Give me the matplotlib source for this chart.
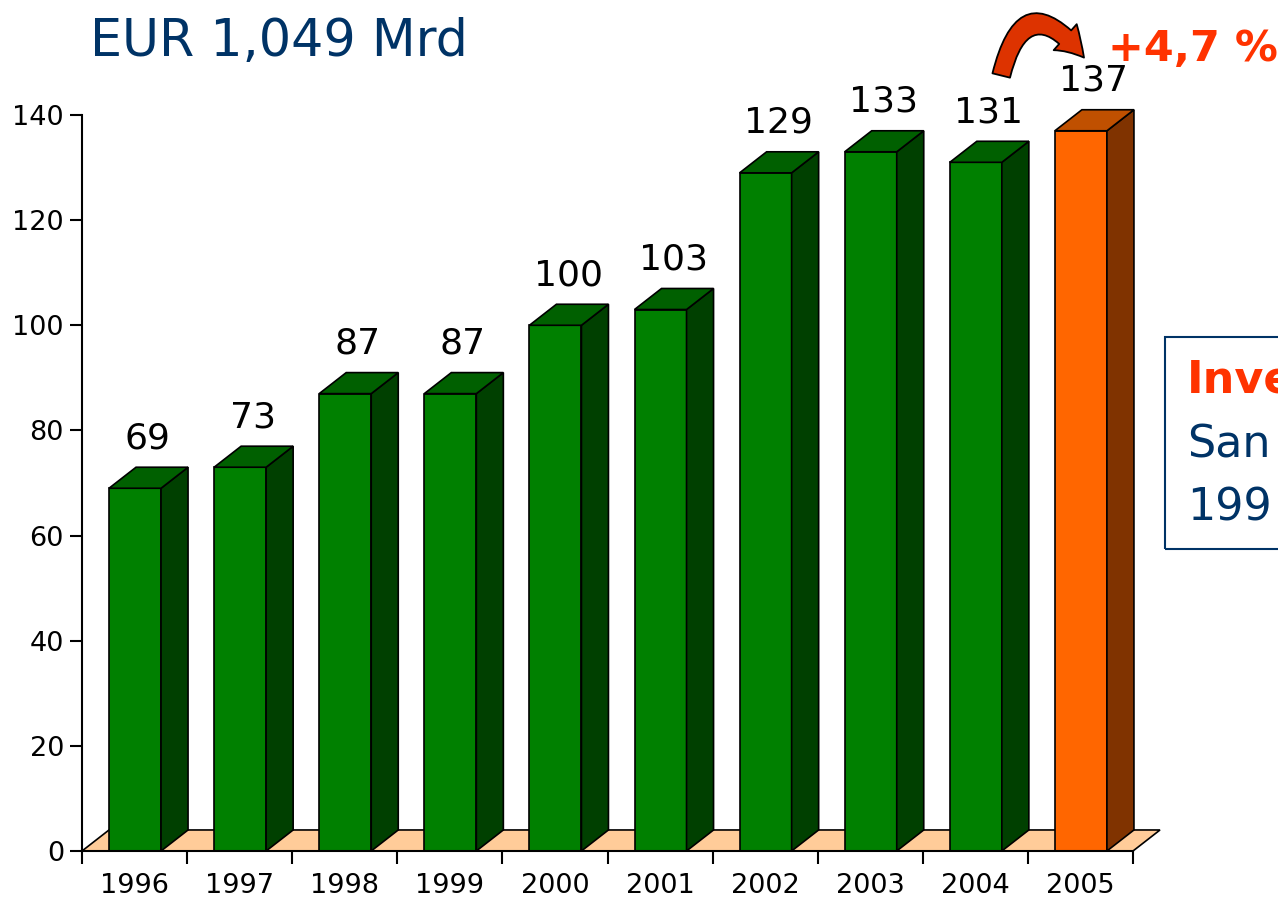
import matplotlib
matplotlib.use('Agg')
import matplotlib.pyplot as plt
from matplotlib.patches import Polygon, Rectangle

plt.rcParams['font.family'] = ['DejaVu Sans']

years = ['1996', '1997', '1998', '1999', '2000', '2001', '2002', '2003', '2004', '2005']
values = [69, 73, 87, 87, 100, 103, 129, 133, 131, 137]
yticks = [0, 20, 40, 60, 80, 100, 120, 140]

# colours: front, side, top
green = ('#008000', '#004000', '#006000')
orange = ('#FF6600', '#803300', '#C05000')
floor_col = '#FFCC99'
blue = '#003366'
red = '#FF3300'

fig = plt.figure(figsize=(12.78, 9.01), dpi=100)
ax = fig.add_axes([82/1278, 50/901, (1133-82)/1278, (851-115)/901])
ax.set_xlim(0, len(years))
ax.set_ylim(0, 140)

off = 0.257   # bar offset inside category
w = 0.495     # bar front width
dx = 0.257    # depth in x (data units)
dy = 4.0      # depth in y (data units)

# floor
n = len(years)
ax.add_patch(Polygon([(0, 0), (n, 0), (n + dx, dy), (dx, dy)], closed=True,
                     facecolor=floor_col, edgecolor='black', lw=1.2,
                     clip_on=False, zorder=1))

for i, v in enumerate(values):
    cols = orange if i == n - 1 else green
    x0 = i + off
    ax.bar(x0, v, width=w, align='edge', color=cols[0], edgecolor='black',
           lw=1.2, zorder=3, clip_on=False)
    side = [(x0 + w, 0), (x0 + w + dx, dy), (x0 + w + dx, v + dy), (x0 + w, v)]
    top = [(x0, v), (x0 + dx, v + dy), (x0 + w + dx, v + dy), (x0 + w, v)]
    ax.add_patch(Polygon(side, closed=True, facecolor=cols[1], edgecolor='black',
                         lw=1.2, clip_on=False, zorder=3))
    ax.add_patch(Polygon(top, closed=True, facecolor=cols[2], edgecolor='black',
                         lw=1.2, clip_on=False, zorder=3))
    ax.text(x0 + w / 2 + 0.12, v + 9.5, str(v), ha='center', va='center',
            fontsize=26, color='black', zorder=5)

for s in ['top', 'right']:
    ax.spines[s].set_visible(False)
for s in ['left', 'bottom']:
    ax.spines[s].set_linewidth(1.5)
    ax.spines[s].set_zorder(4)

ax.set_yticks(yticks)
ax.set_yticklabels([str(t) for t in yticks], fontsize=19.5)
ax.tick_params(axis='y', length=9, width=1.5, pad=4)

ax.set_xticks(range(n + 1))
ax.set_xticklabels([])
ax.set_xticks([i + 0.5 for i in range(n)], minor=True)
ax.set_xticklabels(years, minor=True, fontsize=19.5)
ax.tick_params(axis='x', which='major', length=9, width=1.5)
ax.tick_params(axis='x', which='minor', length=0, pad=16)

# titles
fig.text(90/1278, 1 - 42/901, 'EUR 1,049 Mrd', fontsize=36.5, color=blue,
         ha='left', va='center')
fig.text(1108/1278, 1 - 49/901, '+4,7 %', fontsize=31, color=red,
         fontweight='bold', ha='left', va='center')

# curved arrow
ax.annotate('', xy=(9.55, 150.5), xytext=(8.74, 147.0), xycoords='data',
            annotation_clip=False,
            arrowprops=dict(arrowstyle='simple,head_width=2.5,head_length=2.0,tail_width=1.3',
                            connectionstyle='arc3,rad=-1.05',
                            facecolor='#DD3300', edgecolor='black', lw=1.3))

# side box (cut off at the right edge)
fig.patches.append(Rectangle((1165/1278, (901-549)/901), 0.2, 212/901,
                             transform=fig.transFigure, fill=False,
                             edgecolor=blue, lw=1.5))
fig.text(1187/1278, 1 - 380/901, 'Inve', fontsize=32, color=red,
         fontweight='bold', ha='left', va='center')
fig.text(1187/1278, 1 - 445/901, 'San', fontsize=32, color=blue,
         ha='left', va='center')
fig.text(1187/1278, 1 - 508/901, '199', fontsize=32, color=blue,
         ha='left', va='center')

fig.savefig('out.png', dpi=100)
